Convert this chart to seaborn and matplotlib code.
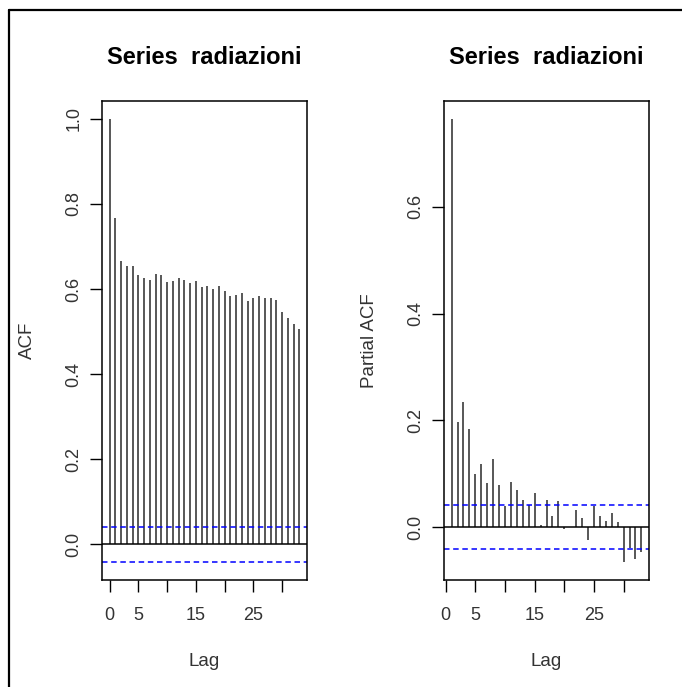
import numpy as np
import pandas as pd
import matplotlib
matplotlib.use("Agg")
import matplotlib.pyplot as plt
from matplotlib.lines import Line2D
import seaborn as sns

# ---- data ----
acf_lags = list(range(0, 34))
acf_values = [1.000, 0.767, 0.665, 0.654, 0.654, 0.634, 0.627, 0.622, 0.636, 0.634,
              0.616, 0.619, 0.627, 0.622, 0.614, 0.619, 0.605, 0.608, 0.601, 0.607,
              0.595, 0.584, 0.587, 0.591, 0.572, 0.579, 0.584, 0.579, 0.579, 0.575,
              0.547, 0.532, 0.518, 0.506]
pacf_lags = list(range(1, 34))
pacf_values = [0.765, 0.196, 0.235, 0.184, 0.099, 0.118, 0.083, 0.127, 0.078, 0.039,
               0.085, 0.069, 0.051, 0.041, 0.064, 0.003, 0.051, 0.021, 0.049, -0.004,
               0.001, 0.032, 0.016, -0.024, 0.040, 0.021, 0.011, 0.026, 0.009, -0.066,
               -0.039, -0.059, -0.046]
conf_limit = 0.042
title_text = "Series  radiazioni"
x_ticks = [0, 5, 10, 15, 20, 25, 30]
x_tick_labels = ["0", "5", "", "15", "", "25", ""]
acf_y_ticks = [0.0, 0.2, 0.4, 0.6, 0.8, 1.0]
pacf_y_ticks = [0.0, 0.2, 0.4, 0.6]

sns.set_theme(style="white")
plt.rcParams['font.family'] = ['Liberation Sans', 'DejaVu Sans']

W, H = 682, 687
fig = plt.figure(figsize=(W / 100, H / 100), dpi=100)

def px_axes(left, right, top, bottom):
    return fig.add_axes([left / W, 1 - bottom / H, (right - left) / W, (bottom - top) / H])

ax1 = px_axes(102, 307, 101, 580)
ax2 = px_axes(444, 649, 101, 580)

def draw(ax, lags, vals, yticks, ylabel):
    df = pd.DataFrame({"lag": lags, "val": vals})
    ax.vlines(df["lag"], 0, df["val"], color="#2a2a2a", lw=1.1)
    ax.axhline(0, color="black", lw=1.1)
    for s in (conf_limit, -conf_limit):
        ax.axhline(s, color="#0000ff", lw=1.1, dashes=(3.6, 2.4))
    lo = min(min(vals), -conf_limit)
    hi = max(max(vals), conf_limit)
    span = hi - lo
    ax.set_ylim(lo - 0.04 * span, hi + 0.04 * span)
    xs = max(lags) - min(lags)
    ax.set_xlim(min(lags) - 0.04 * xs, max(lags) + 0.04 * xs)
    ax.set_xticks(x_ticks)
    ax.set_xticklabels(x_tick_labels)
    ax.set_yticks(yticks)
    ax.set_yticklabels([f"{t:.1f}" for t in yticks])
    ax.tick_params(axis="both", direction="out", length=8.6, width=1, color="black",
                   labelsize=13, labelcolor="#333333", bottom=True, left=True)
    ax.tick_params(axis="x", pad=11)
    ax.tick_params(axis="y", pad=5.5)
    for lab in ax.get_yticklabels():
        lab.set_rotation(90)
        lab.set_va("center")
    for sp in ax.spines.values():
        sp.set_color("black")
        sp.set_linewidth(1.1)
        sp.set_visible(True)
    ax.set_title(title_text, fontsize=17, fontweight="bold", pad=27, color="black")
    ax.set_xlabel("Lag", fontsize=13.5, color="#333333")
    ax.set_ylabel(ylabel, fontsize=13.5, color="#333333")
    ax.xaxis.set_label_coords(0.5, -0.152)
    ax.xaxis.label.set_va("top")
    ax.yaxis.set_label_coords(-0.32, 0.5)

draw(ax1, acf_lags, acf_values, acf_y_ticks, "ACF")
draw(ax2, pacf_lags, pacf_values, pacf_y_ticks, "Partial ACF")

# outer frame lines (top and left)
fig.add_artist(Line2D([9 / W, 1], [1 - 10 / H, 1 - 10 / H], color="black", lw=1.6,
                      transform=fig.transFigure))
fig.add_artist(Line2D([9 / W, 9 / W], [0, 1 - 10 / H], color="black", lw=1.6,
                      transform=fig.transFigure))

fig.savefig("out.png", dpi=100)
